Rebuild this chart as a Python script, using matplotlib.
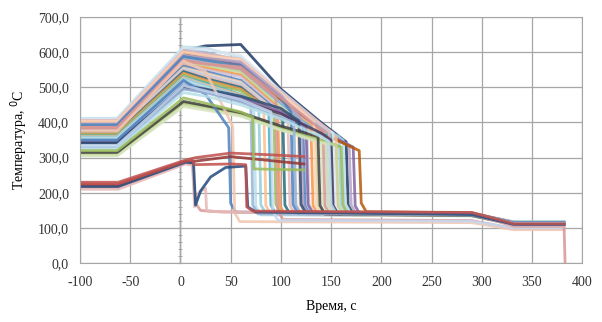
import matplotlib
matplotlib.use("Agg")
import matplotlib.pyplot as plt
from matplotlib.ticker import FuncFormatter, MultipleLocator

plt.rcParams["font.family"] = ["Liberation Serif", "DejaVu Serif"]
plt.rcParams["axes.unicode_minus"] = False

# times at which the heating-stage temperatures are read
# (the first value of each row holds for both -100 and -63)
GRID_T = [-100, -63, 3, 25, 60, 100, 140]

# upper curves: temps at GRID_T (until cut), cut time, temp before cut,
# plateau temp after cut, final temp, colour
upper_temps = [
    [398, 605, 618, 622, 495, 400],
    [412, 615, 612, 585, 480, 390],
    [408, 610, 600, 575, 470, 385],
    [405, 600, 598, 570, 475, 382],
    [402, 595, 590, 565, 465, 375],
    [400, 598, 585, 560, 460, 370],
    [398, 590, 580, 555, 455, 372],
    [395, 585, 575, 550, 450, 365],
    [392, 580, 570, 548, 455, 360],
    [390, 575, 560, 540, 445],
    [388, 570, 562, 545, 440],
    [385, 565, 555, 535, 435],
    [382, 570, 550, 530, 430],
    [380, 560, 545, 520, 425],
    [378, 555, 540, 515, 420],
    [375, 552, 535, 510, 415],
    [372, 548, 530, 505, 412],
    [370, 545, 525, 500, 410],
    [368, 540, 520, 495],
    [365, 535, 515, 490],
    [362, 530, 512, 480],
    [360, 528, 508, 478],
    [358, 525, 505, 475],
    [355, 520, 500, 470],
    [350, 515, 495, 465],
    [410, 612, 608, 590, 490, 395],
    [406, 605, 595, 580, 485, 395],
    [403, 600, 590, 578, 482],
    [396, 592, 583, 572, 478],
    [393, 588, 578, 562, 470],
    [386, 578, 568, 552],
    [384, 575, 566, 558, 470, 380],
    [345, 500, 492, 470, 430],
    [342, 498, 488, 462, 425, 370],
    [340, 505, 495, 475, 440],
    [310, 455, 445, 425, 385, 350],
    [307, 450, 440, 420, 380, 345],
    [305, 445, 435, 418, 378, 342],
    [315, 460, 448, 428, 390],
    [350, 520, 480],
    [375, 575, 545],
    [330, 495, 485, 458, 415],
    [335, 505, 490, 465],
    [325, 485, 475, 450, 410, 360],
]
cut_time = [165, 162, 158, 168, 172, 178, 155, 150, 145, 140, 135, 130, 126,
            122, 117, 112, 107, 102, 97, 93, 88, 83, 78, 73, 70, 152, 148, 133,
            120, 110, 95, 142, 125, 150, 118, 160, 155, 145, 137, 48, 52, 113,
            90, 148]
cut_temp = [345, 350, 360, 335, 330, 320, 360, 365, 355, 355, 370, 375, 380,
            385, 385, 395, 400, 405, 420, 425, 430, 440, 445, 450, 455, 370,
            375, 400, 410, 430, 470, 375, 390, 350, 405, 330, 335, 340, 360,
            385, 390, 400, 430, 345]
low_temp = [140, 145, 142, 140, 138, 146, 140, 138, 141, 143, 140, 139, 142,
            138, 140, 141, 139, 140, 138, 142, 140, 139, 141, 137, 140, 143,
            141, 139, 140, 142, 124, 138, 141, 139, 142, 140, 138, 141, 139,
            145, 118, 140, 122, 142]
end_temp = [110, 115, 118, 112, 110, 116, 112, 110, 113, 115, 112, 110, 114,
            111, 113, 112, 110, 112, 111, 113, 110, 112, 111, 109, 110, 116,
            114, 112, 111, 113, 98, 110, 112, 110, 114, 110, 109, 111, 110,
            115, 95, 112, 100, 113]
upper_colors = [
    "#1F3864", "#B7DEE8", "#93CDDD", "#B3A2C7", "#8064A2", "#B65708",
    "#FAC090", "#4BACC6", "#95B3D7", "#D7E4BD", "#C3D69B", "#F79646",
    "#CCC1DA", "#4F81BD", "#FCD5B5", "#B9CDE5", "#E6B9B8", "#276A7C",
    "#F79646", "#9BBB59", "#4BACC6", "#FAC090", "#93CDDD", "#B7DEE8",
    "#95B3D7", "#DCE6F2", "#E6B9B8", "#FCD5B5", "#B3A2C7", "#4F81BD",
    "#D99694", "#D99694", "#8064A2", "#4D3B62", "#2C4D75", "#9BBB59",
    "#C3D69B", "#D7E4BD", "#404040", "#4F81BD", "#F2C6B0", "#95B3D7",
    "#C6D9F1", "#B7DEE8",
]

# lower curves and special curves, given point by point
lower_t = [
    [-100, -62, 5, 15, 50, 90, 123],
    [-100, -62, 5, 15, 50, 123],
    [-100, -62, 5, 12, 15, 20, 30, 60, 290, 332, 382, 383],
    [-100, -62, 5, 12, 14, 18, 25, 26, 40, 290, 332, 382],
    [-100, -62, 5, 13, 15, 20, 30, 45, 65, 67, 75, 290, 332, 382],
    [-100, -62, 5, 12, 14, 50, 65, 66, 72, 290, 332, 382],
    [-100, -63, 3, 25, 60, 72, 73, 123],
]
lower_y = [
    [230, 230, 293, 300, 313, 308, 303],
    [222, 222, 288, 290, 303, 282],
    [215, 215, 285, 280, 170, 150, 147, 145, 140, 105, 105, 0],
    [210, 210, 282, 278, 160, 200, 213, 150, 145, 138, 108, 108],
    [218, 218, 287, 285, 165, 205, 245, 272, 276, 160, 145, 138, 110, 110],
    [225, 225, 290, 292, 280, 282, 280, 160, 148, 144, 112, 112],
    [320, 320, 470, 455, 430, 415, 268, 265],
]
lower_colors = ["#C0504D", "#943634", "#D99694", "#E6B9B8", "#1F497D",
                "#C0504D", "#9BBB59"]

fig = plt.figure(figsize=(6.02, 3.22), dpi=100)
ax = fig.add_axes([0.133, 0.183, 0.834, 0.764])

for i, temps in enumerate(upper_temps):
    tc = cut_time[i]
    tl = low_temp[i]
    row = [temps[0]] + temps
    xs = GRID_T[:len(row)] + [tc, tc + 2, tc + 7, 290, 332, 382]
    ys = row + [cut_temp[i], tl + 25, tl, tl - 3, end_temp[i], end_temp[i]]
    ax.plot(xs, ys, color=upper_colors[i], lw=2.0, alpha=0.85,
            solid_joinstyle="round")

for xs, ys, c in zip(lower_t, lower_y, lower_colors):
    ax.plot(xs, ys, color=c, lw=2.0, alpha=0.85, solid_joinstyle="round")

ax.set_xlim(-100, 400)
ax.set_ylim(0, 700)
ax.xaxis.set_major_locator(MultipleLocator(50))
ax.yaxis.set_major_locator(MultipleLocator(100))
ax.yaxis.set_major_formatter(
    FuncFormatter(lambda v, p: f"{v:.1f}".replace(".", ",")))
ax.grid(True, color="#A6A6A6", lw=0.9)
ax.set_axisbelow(True)
for s in ax.spines.values():
    s.set_color("#A6A6A6")
ax.tick_params(length=0, labelsize=10, colors="#333333")
ax.tick_params(axis="y", pad=8)
ax.tick_params(axis="x", pad=9)

# vertical axis crossing at x = 0 with minor ticks
ax.axvline(0, color="#9A9A9A", lw=1.0, zorder=0.5)
sec = ax.secondary_yaxis(0.2)
sec.yaxis.set_major_locator(MultipleLocator(100))
sec.yaxis.set_minor_locator(MultipleLocator(20))
sec.tick_params(which="both", direction="inout", colors="#9A9A9A",
                labelleft=False, labelright=False)
sec.tick_params(which="major", length=5)
sec.tick_params(which="minor", length=3)
sec.spines["left"].set_color("#9A9A9A")

ax.set_ylabel("Температура, $^{0}$C", fontsize=10, labelpad=6)
ax.set_xlabel("Время, с", fontsize=10, labelpad=8)

fig.savefig("out.png", dpi=100)
